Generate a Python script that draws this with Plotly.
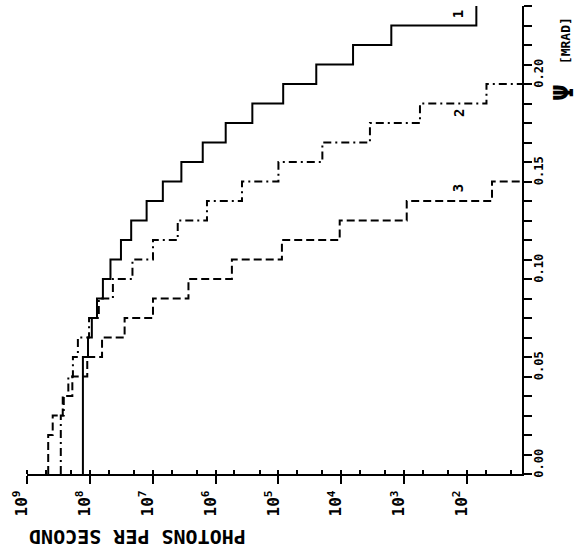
import plotly.graph_objects as go

# angular bins (mrad), width 0.01
BIN_WIDTH = 0.01

# photons per second per bin
curve1 = [1.29e8, 1.29e8, 1.29e8, 1.29e8, 1.29e8, 1.29e8, 1.07e8, 9.3e7, 7.7e7, 6.2e7,
          4.7e7, 3.2e7, 2.2e7, 1.25e7, 6.9e6, 3.5e6, 1.6e6, 6.9e5, 2.6e5, 8.4e4,
          2.5e4, 6.5e3, 1.6e3, 71]
curve2 = [2.9e8, 2.9e8, 2.9e8, 2.6e8, 2.2e8, 1.86e8, 1.55e8, 1.03e8, 7.2e7, 4.3e7,
          2.1e7, 9.9e6, 4.0e6, 1.37e6, 3.8e5, 1.0e5, 2.0e4, 3.5e3, 5.6e2, 49]
curve3 = [4.6e8, 4.6e8, 3.9e8, 2.7e8, 1.9e8, 1.1e8, 6.4e7, 2.8e7, 9.9e6, 2.7e6,
          5.5e5, 8.8e4, 1.06e4, 9.1e2, 40]

decade_vals = [1e9, 1e8, 1e7, 1e6, 1e5, 1e4, 1e3, 1e2]
decade_text = ["10<sup>9</sup>", "10<sup>8</sup>", "10<sup>7</sup>", "10<sup>6</sup>",
               "10<sup>5</sup>", "10<sup>4</sup>", "10<sup>3</sup>", "10<sup>2</sup>"]
curve_labels = ["1", "2", "3"]

FLOOR = 1.0  # off-scale value used to close a curve to the right edge

MONO = "DejaVu Sans Mono"


def steps(vals, close):
    xs, ys = [], []
    for i, v in enumerate(vals):
        xs.append(v)
        ys.append(i * BIN_WIDTH)
    end = len(vals) * BIN_WIDTH
    xs.append(vals[-1])
    ys.append(end)
    if close:
        xs.append(FLOOR)
        ys.append(end)
    return xs, ys


fig = go.Figure()
styles = [
    (curve1, "solid", False),
    (curve2, "8px,4px,2px,4px", True),
    (curve3, "8px,4px", True),
]
for vals, dash, close in styles:
    xs, ys = steps(vals, close)
    fig.add_trace(go.Scatter(x=xs, y=ys, mode="lines", line_shape="vh",
                             line=dict(color="black", width=2, dash=dash),
                             showlegend=False, hoverinfo="skip"))

fig.update_layout(
    width=583, height=560,
    margin=dict(l=27, r=61, t=6, b=86),
    paper_bgcolor="white", plot_bgcolor="white",
    font=dict(family=MONO, color="black"),
)

fig.update_xaxes(
    type="log", range=[9, 1.125],
    showline=True, linecolor="black", linewidth=2,
    showgrid=False, zeroline=False,
    tickmode="array", tickvals=decade_vals, ticktext=decade_text,
    ticks="outside", ticklen=8, tickwidth=2, tickcolor="black",
    tickangle=-90, ticklabelshift=5,
    tickfont=dict(family=MONO, size=16, weight=700, color="black"),
    minor=dict(dtick="D2", ticks="inside", ticklen=4, tickwidth=1.5, tickcolor="black", showgrid=False),
)

fig.update_yaxes(
    side="right", range=[0, 0.24],
    showline=True, linecolor="black", linewidth=2,
    showgrid=False, zeroline=False,
    tick0=0, dtick=0.05, tickformat=".2f",
    ticks="outside", ticklen=8, tickwidth=2, tickcolor="black",
    tickangle=-90, ticklabelshift=-9, ticklabelstandoff=-3,
    tickfont=dict(family=MONO, size=12, weight=700, color="black"),
    minor=dict(dtick=0.01, ticks="outside", ticklen=8, tickwidth=1.5, tickcolor="black", showgrid=False),
)

# axis titles
fig.add_annotation(text="PHOTONS PER SECOND", xref="paper", yref="paper",
                   x=0.222, y=-0.1346, xanchor="center", yanchor="middle",
                   showarrow=False, textangle=180,
                   font=dict(family=MONO, size=20, weight=700, color="black"))
fig.add_annotation(text="[MRAD]", xref="paper", yref="paper",
                   x=1.087, y=0.925, xanchor="center", yanchor="middle",
                   showarrow=False, textangle=-90,
                   font=dict(family=MONO, size=13, weight=700, color="black"))
fig.add_annotation(text="Ψ", xref="paper", yref="paper",
                   x=1.085, y=0.815, xanchor="center", yanchor="middle",
                   showarrow=False, textangle=-90,
                   font=dict(family=MONO, size=27, weight=700, color="black"))

# curve labels (log10 x, psi)
label_pos = [(2.148, 0.2356), (2.116, 0.185), (2.148, 0.1464)]
for lab, (lx, ly) in zip(curve_labels, label_pos):
    fig.add_annotation(text=lab, x=lx, y=ly, xref="x", yref="y", showarrow=False,
                       xanchor="center", yanchor="middle",
                       textangle=-90, font=dict(family=MONO, size=14, weight=700, color="black"))

fig.write_html("out.html", config={"displayModeBar": False},
               post_script="document.body.style.margin='0';")
